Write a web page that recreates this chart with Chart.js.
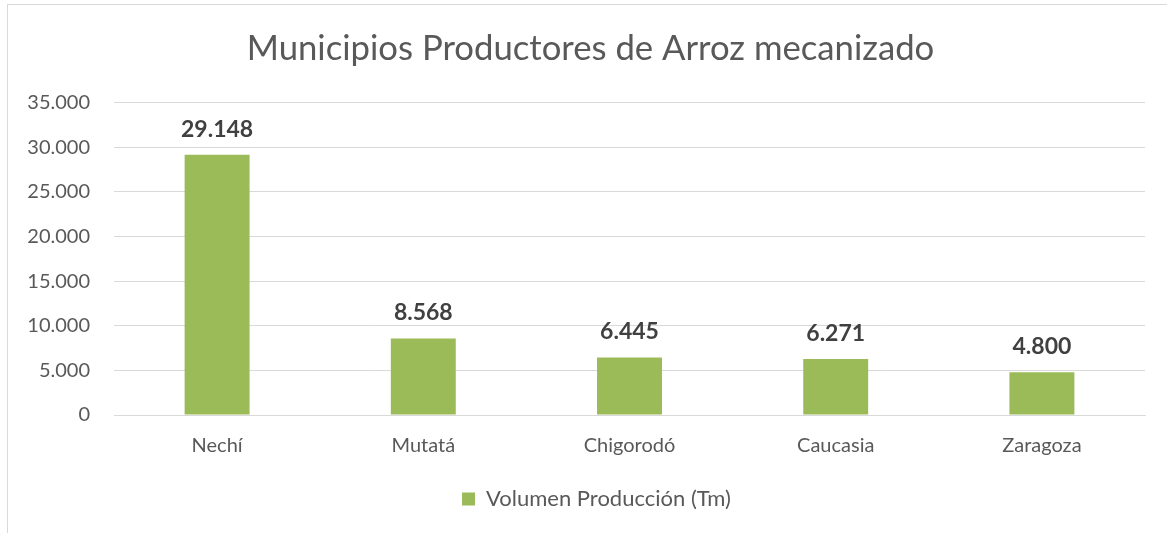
<!DOCTYPE html>
<html>
<head>
<meta charset="utf-8">
<script src="https://cdn.jsdelivr.net/npm/chart.js@4"></script>
<style>
  body { margin: 0; background: #fff; overflow: hidden; }
  #frame { position: absolute; left: 7px; top: 4px; width: 1300px; height: 700px; border: 1px solid #d9d9d9; }
  #wrap { position: absolute; left: 0; top: 0; width: 1167px; height: 533px; }
</style>
</head>
<body>
<div id="frame"></div>
<div id="wrap"><canvas id="myChart" width="1167" height="533"></canvas></div>
<script>
// chart data
const municipios = ['Nechí', 'Mutatá', 'Chigorodó', 'Caucasia', 'Zaragoza'];
const volumen = [29148, 8568, 6445, 6271, 4800];
const serieNombre = 'Volumen Producción (Tm)';
const tituloTexto = 'Municipios Productores de Arroz mecanizado';

const fontFam = 'Lato, "Open Sans", sans-serif';
const grisTexto = '#595959';

// thousands with a dot, like the original
function puntos(n) {
  return String(n).replace(/\B(?=(\d{3})+(?!\d))/g, '.');
}

// draws the value on top of each bar
const etiquetas = {
  id: 'etiquetas',
  afterDatasetsDraw(chart) {
    const ctx = chart.ctx;
    const meta = chart.getDatasetMeta(0);
    ctx.save();
    ctx.font = 'bold 23px ' + fontFam;
    ctx.fillStyle = '#404040';
    ctx.textAlign = 'center';
    ctx.textBaseline = 'bottom';
    meta.data.forEach(function (bar, i) {
      ctx.fillText(puntos(chart.data.datasets[0].data[i]), bar.x, bar.y - 14);
    });
    ctx.restore();
  }
};

// title and legend in the original sit a bit right of centre
const correrDerecha = {
  id: 'correrDerecha',
  afterLayout(chart) {
    if (chart.titleBlock) chart.titleBlock.left += 16;
    if (chart.legend) chart.legend.left += 28;
  }
};

const data = {
  labels: municipios,
  datasets: [{
    label: serieNombre,
    data: volumen,
    backgroundColor: '#9BBB59',
    borderWidth: 0,
    categoryPercentage: 1,
    barPercentage: 0.315
  }]
};

const config = {
  type: 'bar',
  data: data,
  plugins: [etiquetas, correrDerecha],
  options: {
    responsive: false,
    animation: false,
    layout: { padding: { left: 20, right: 22, top: 0, bottom: 13 } },
    plugins: {
      title: {
        display: true,
        text: tituloTexto,
        color: grisTexto,
        font: { family: fontFam, size: 34.7, weight: 'normal', lineHeight: 1.2 },
        padding: { top: 28, bottom: 33 }
      },
      legend: {
        position: 'bottom',
        labels: {
          color: grisTexto,
          font: { family: fontFam, size: 22 },
          boxWidth: 13,
          boxHeight: 13,
          padding: 11
        }
      },
      tooltip: { enabled: false }
    },
    scales: {
      x: {
        grid: { display: false, drawTicks: false },
        border: { color: '#d9d9d9' },
        ticks: { color: grisTexto, font: { family: fontFam, size: 20 }, padding: 19 }
      },
      y: {
        min: 0,
        max: 35000,
        afterFit: function (scale) { scale.width = 94; },
        grid: { color: '#d9d9d9', drawTicks: false },
        border: { display: false },
        ticks: {
          stepSize: 5000,
          color: grisTexto,
          font: { family: fontFam, size: 20 },
          padding: 24,
          callback: function (v) { return puntos(v); }
        }
      }
    }
  }
};

var ctx = document.getElementById('myChart').getContext('2d');
var myChart = new Chart(ctx, config);
</script>
</body>
</html>
